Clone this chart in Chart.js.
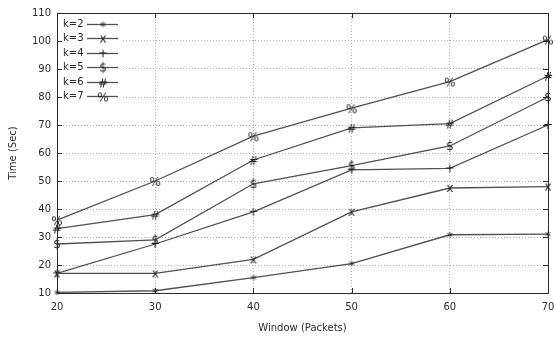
<!DOCTYPE html>
<html>
<head>
<meta charset="utf-8">
<script src="https://cdn.jsdelivr.net/npm/chart.js@4/dist/chart.umd.min.js"></script>
<style>
  html, body { margin: 0; padding: 0; background: #fff; }
  #wrap { width: 555px; height: 340px; position: relative; }
</style>
</head>
<body>
<div id="wrap"><canvas id="timeChart"></canvas></div>
<script>
// window sizes (packets) on the x axis
const windowSizes = [20, 30, 40, 50, 60, 70];

// completion time (sec) per k
const k2 = [10.2, 10.8, 15.5, 20.5, 30.8, 31];
const k3 = [17, 17, 22, 39, 47.5, 48];
const k4 = [17, 27.5, 39, 54, 54.5, 70];
const k5 = [27.5, 29, 49, 55.5, 62.5, 80];
const k6 = [33, 38, 57.5, 69, 70.5, 87.5];
const k7 = [36, 50, 66, 76, 85.5, 100.5];

const seriesLabels = ['k=2', 'k=3', 'k=4', 'k=5', 'k=6', 'k=7'];
const seriesMarks = ['*', 'x', '+', '$', '#', '%'];
const seriesValues = [k2, k3, k4, k5, k6, k7];

const yTicks = [10, 20, 30, 40, 50, 60, 70, 80, 90, 100, 110];

const FONT = 'DejaVu Sans';
const INK = '#2b2b2b';
const LINE = '#505050';

// small canvases holding a text character, used as point markers
function glyph(ch) {
  const c = document.createElement('canvas');
  c.width = 16; c.height = 16;
  const g = c.getContext('2d');
  g.font = '12px "' + FONT + '"';
  g.fillStyle = '#222';
  g.textAlign = 'center';
  g.textBaseline = 'alphabetic';
  const m = g.measureText(ch);
  const y = 8 + (m.actualBoundingBoxAscent - m.actualBoundingBoxDescent) / 2;
  g.fillText(ch, 8, y);
  return c;
}

const datasets = seriesValues.map((vals, i) => ({
  label: seriesLabels[i],
  data: vals.map((v, j) => ({ x: windowSizes[j], y: v })),
  borderColor: LINE,
  borderWidth: 1.3,
  pointStyle: glyph(seriesMarks[i]),
  pointRadius: 5,
  clip: false,
  tension: 0
}));

const keyAndFrame = {
  id: 'keyAndFrame',
  afterDatasetsDraw(chart) {
    const { ctx, chartArea: a } = chart;
    ctx.save();
    ctx.fillStyle = '#fff';
    ctx.fillRect(a.left + 1, a.top + 1, 65, 90);
    ctx.font = '10px "' + FONT + '"';
    ctx.textBaseline = 'middle';
    ctx.textAlign = 'left';
    chart.data.datasets.forEach((ds, i) => {
      const yy = Math.round(a.top + 11 + i * 14.4) + 0.5;
      ctx.fillStyle = INK;
      ctx.fillText(ds.label, a.left + 6, yy);
      ctx.strokeStyle = ds.borderColor;
      ctx.lineWidth = ds.borderWidth;
      ctx.beginPath();
      ctx.moveTo(a.left + 30, yy);
      ctx.lineTo(a.left + 61, yy);
      ctx.stroke();
      ctx.drawImage(ds.pointStyle, a.left + 46 - 8, yy - 8);
    });
    ctx.restore();
  },
  afterDraw(chart) {
    const { ctx, chartArea: a, scales: { x, y } } = chart;
    ctx.save();
    ctx.strokeStyle = INK;
    ctx.lineWidth = 1;
    ctx.beginPath();
    x.ticks.forEach(t => {
      const px = Math.round(x.getPixelForValue(t.value)) + 0.5;
      ctx.moveTo(px, a.top); ctx.lineTo(px, a.top + 5);
      ctx.moveTo(px, a.bottom); ctx.lineTo(px, a.bottom - 5);
    });
    y.ticks.forEach(t => {
      const py = Math.round(y.getPixelForValue(t.value)) + 0.5;
      ctx.moveTo(a.left, py); ctx.lineTo(a.left + 5, py);
      ctx.moveTo(a.right, py); ctx.lineTo(a.right - 5, py);
    });
    ctx.stroke();
    ctx.strokeRect(Math.round(a.left) + 0.5, Math.round(a.top) + 0.5,
      Math.round(a.right - a.left), Math.round(a.bottom - a.top));
    ctx.restore();
  }
};

new Chart(document.getElementById('timeChart'), {
  type: 'line',
  data: { datasets },
  options: {
    responsive: true,
    maintainAspectRatio: false,
    animation: false,
    layout: { padding: { top: 13, right: 0, left: 0, bottom: 0 } },
    plugins: { legend: { display: false }, tooltip: { enabled: false } },
    scales: {
      x: {
        type: 'linear',
        min: 20,
        max: 70,
        ticks: { stepSize: 10, padding: 8, color: INK, font: { family: FONT, size: 10 } },
        grid: { color: '#b0b0b0', drawTicks: false },
        border: { display: false, dash: [1, 2] },
        title: { display: true, text: 'Window (Packets)', color: INK, font: { family: FONT, size: 10 }, padding: { top: 0, bottom: 6 } },
        afterFit(s) { s.height = 47; s.paddingRight = 7; s.paddingLeft = 0; }
      },
      y: {
        min: 10,
        max: 110,
        afterBuildTicks(s) { s.ticks = yTicks.map(v => ({ value: v })); },
        ticks: { padding: 6, color: INK, font: { family: FONT, size: 10 } },
        grid: { color: '#b0b0b0', drawTicks: false },
        border: { display: false, dash: [1, 2] },
        title: { display: true, text: 'Time (Sec)', color: INK, font: { family: FONT, size: 10 }, padding: { top: 7, bottom: 0 } },
        afterFit(s) { s.width = 57; s.paddingTop = 0; s.paddingBottom = 0; }
      }
    }
  },
  plugins: [keyAndFrame]
});
</script>
</body>
</html>
